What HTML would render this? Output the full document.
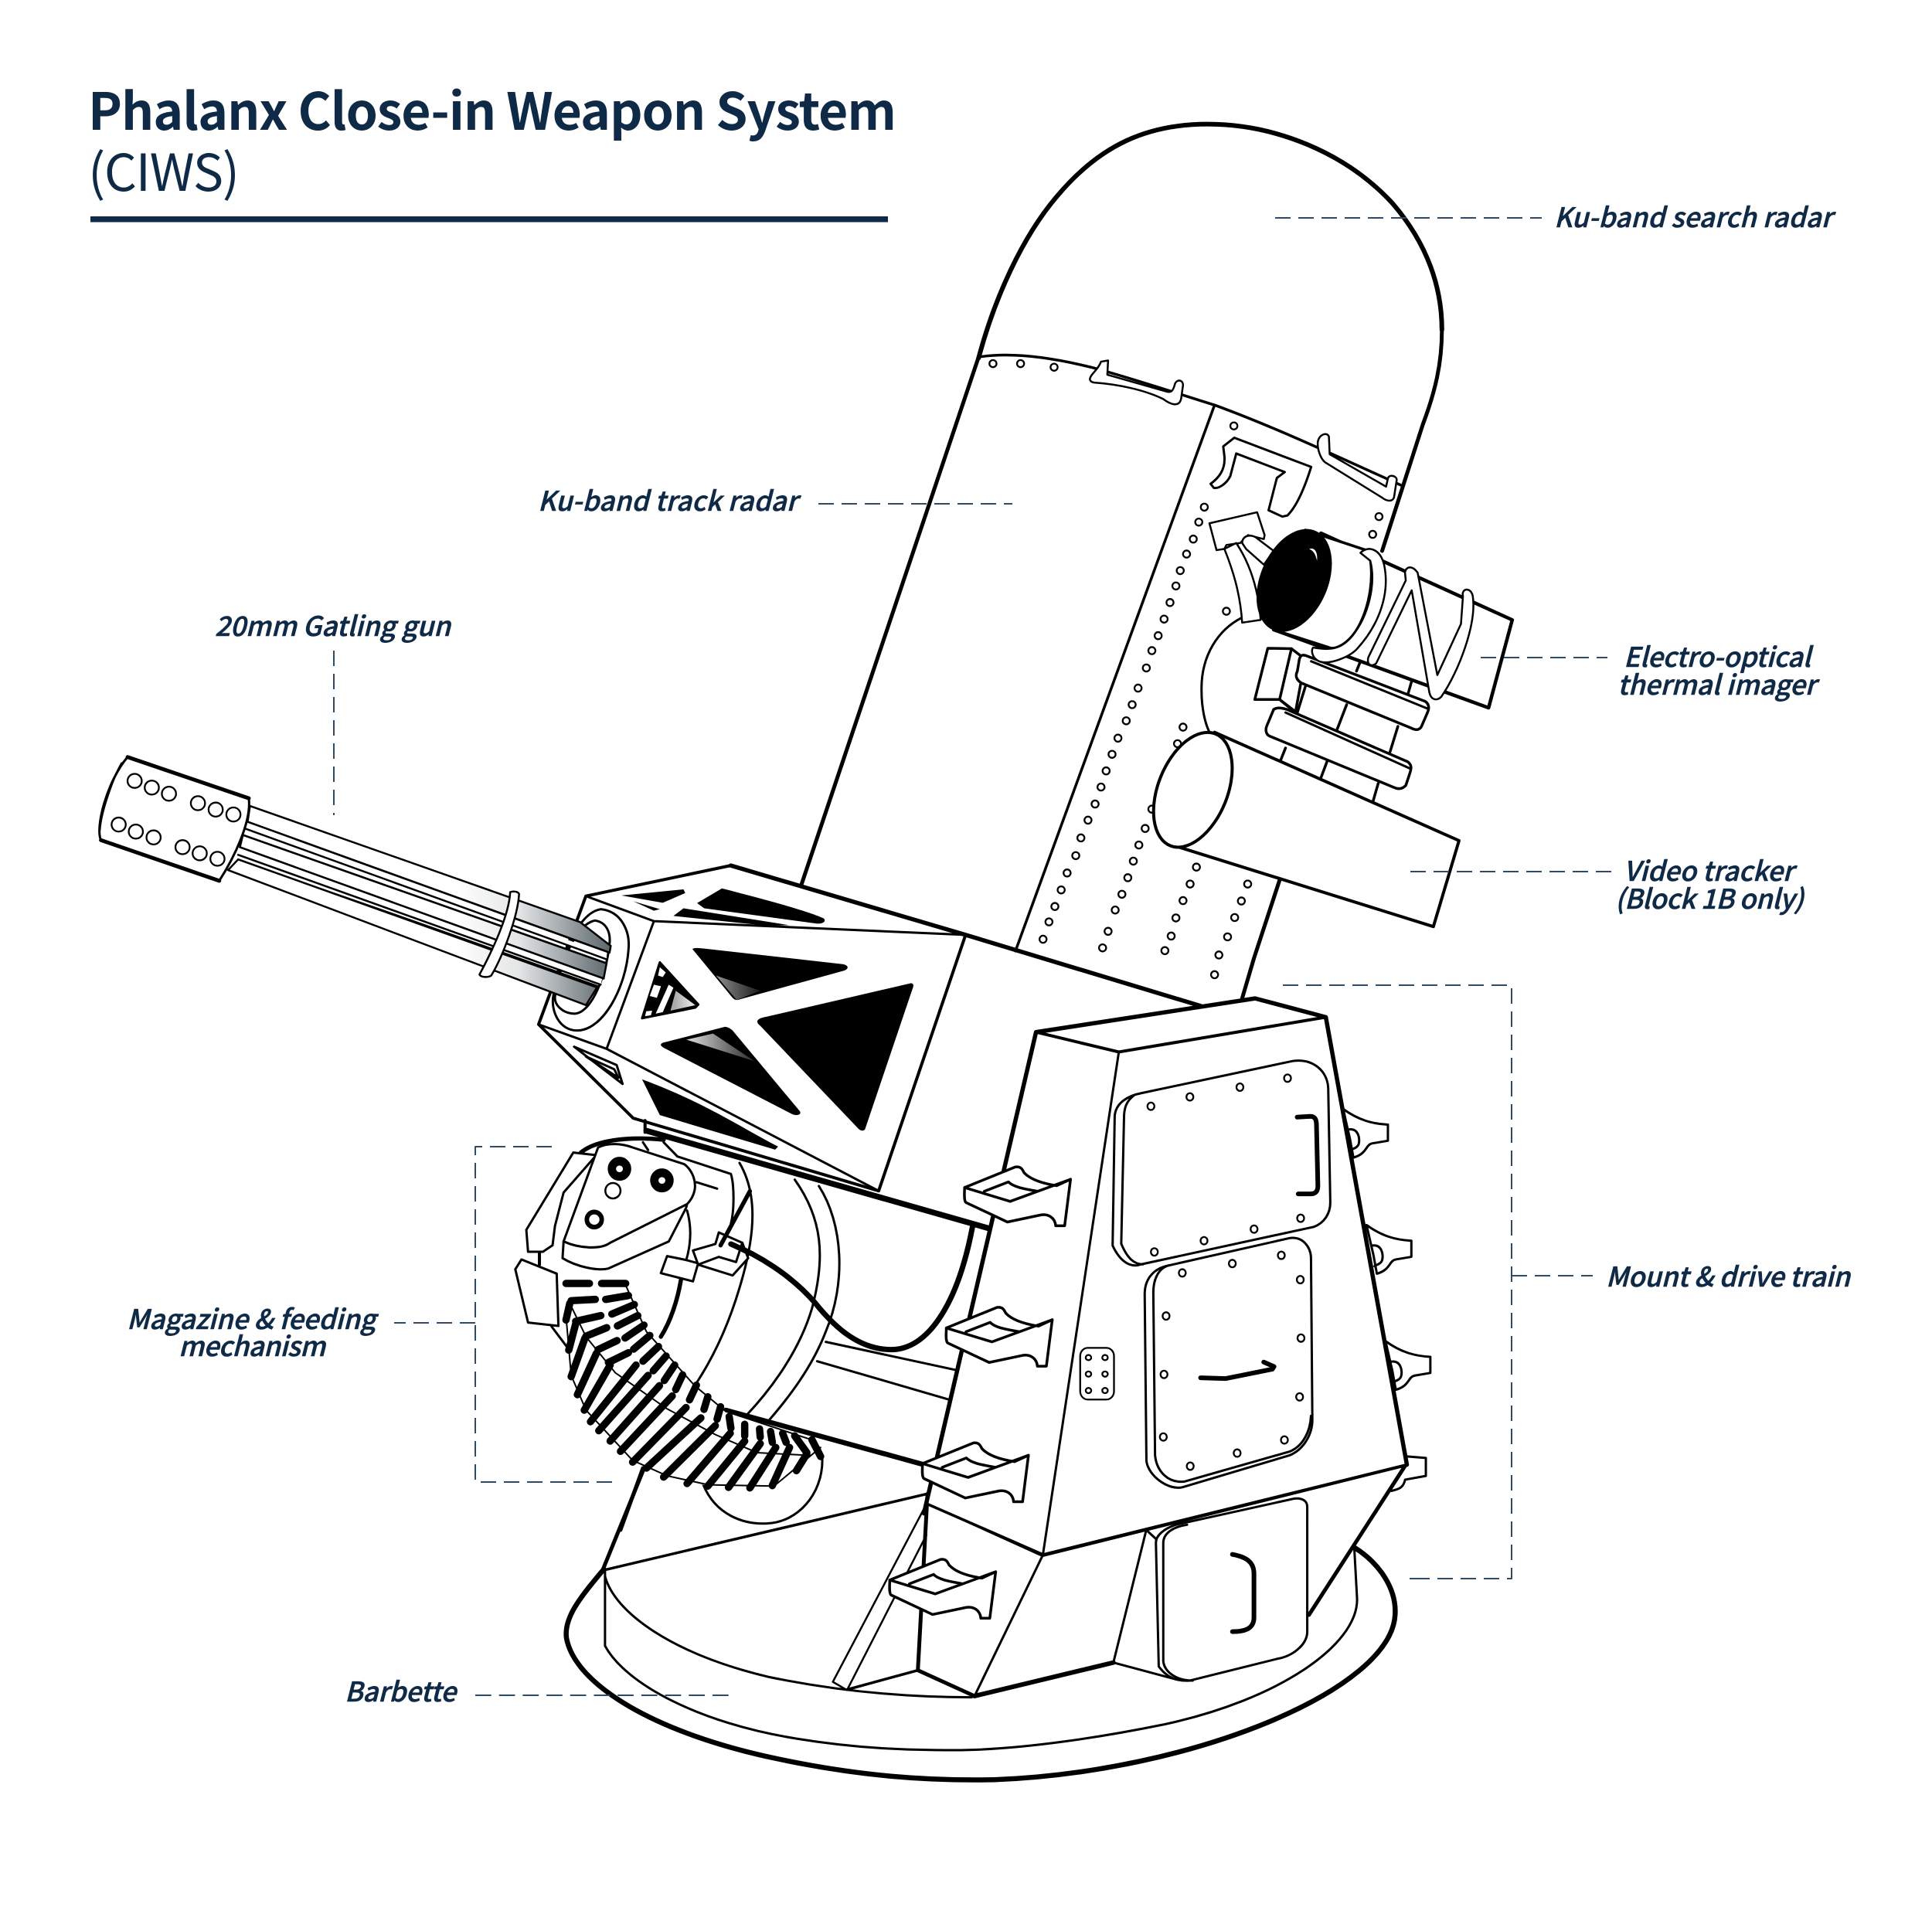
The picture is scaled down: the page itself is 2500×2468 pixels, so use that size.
<!DOCTYPE html>
<html><head><meta charset="utf-8"><style>
html,body{margin:0;padding:0;background:#fff;width:2500px;height:2468px;overflow:hidden}
svg{display:block}
svg *{vector-effect:non-scaling-stroke}
path,line,ellipse,circle,rect,polygon,polyline{fill:none;stroke:#000;stroke-linejoin:round;stroke-linecap:round}
.w{fill:#fff}
.k{fill:#000;stroke:none}
.kk{fill:#000}
text{font-family:"Noto Sans CJK SC","Liberation Sans",sans-serif;fill:#0f2a47;stroke:none}
.l{font-size:35px;font-style:italic;font-weight:500;stroke:#0f2a47;stroke-width:.6px}
.ld{stroke:#2f4a66;stroke-width:2;stroke-dasharray:20 10;stroke-linecap:butt;fill:none}
</style></head><body>
<svg xmlns="http://www.w3.org/2000/svg" width="2500" height="2468" viewBox="0 0 2500 2468">
<defs>
<linearGradient id="bg" gradientUnits="userSpaceOnUse" x1="640" y1="0" x2="905" y2="0"><stop offset="0" stop-color="#fff"/><stop offset=".4" stop-color="#e4e6e7"/><stop offset="1" stop-color="#59646a"/></linearGradient>
<linearGradient id="bg2" gradientUnits="userSpaceOnUse" x1="1030" y1="0" x2="1150" y2="0"><stop offset="0" stop-color="#ddd"/><stop offset="1" stop-color="#222"/></linearGradient>
<linearGradient id="bg3" gradientUnits="userSpaceOnUse" x1="1010" y1="0" x2="1045" y2="0"><stop offset="0" stop-color="#aaa"/><stop offset="1" stop-color="#eee"/></linearGradient>
<g id="step">
<path class="w" stroke-width="3.5" d="M108 530 L255 475 C270 473 275 480 280 490 C300 510 340 520 375 525 L415 508 L398 632 L372 632 C370 610 350 600 330 603 L232 622 L112 570 C105 565 108 540 108 530Z"/>
<path stroke-width="3.5" d="M108 530 L240 567 L415 508 M165 540 L235 515 C250 530 290 535 320 540"/>
</g>
<g id="rear">
<path class="w" stroke-width="3" d="M1205 320 C1250 350 1290 360 1335 362 L1335 405 L1290 412 C1270 415 1275 440 1235 450 L1225 400Z"/>
<path stroke-width="3" d="M1220 375 C1250 370 1255 400 1250 415 C1245 425 1235 425 1228 430"/>
</g>
</defs>

<!-- heading -->
<text x="114" y="168" font-size="66" font-weight="700" textLength="1046">Phalanx Close-in Weapon System</text>
<text x="114" y="247" font-size="66" font-weight="400" textLength="196">(CIWS)</text>
<rect x="117" y="280" width="1032" height="7.5" style="fill:#0f2a47;stroke:none"/>

<!-- radar dome -->
<g transform="translate(1200,120) scale(.5102,.3333)">
<path stroke-width="6" d="M130 1030 C170 800 240 560 330 400 C440 200 560 122 710 122 C880 122 1060 230 1180 430 C1270 590 1305 760 1305 920"/>
</g>

<!-- radar body -->
<g transform="translate(1240,440) scale(.5102)">
<path stroke-width="5" d="M51 45 L-400 1388 M1226.6 -26 C1226.6 60 1210 130 1178 215 L1075 535 M815 1370 L750 1568 L720 1670"/>
<path stroke-width="3.5" d="M60 42 C150 30 260 50 340 70 C450 100 600 150 650 165 C800 220 950 290 1122 368"/>
<path stroke-width="3.5" d="M650 165 L145 1550"/>
<g class="rv" stroke-width="2.3">
<circle cx="88" cy="60" r="9"/><circle cx="158" cy="60" r="9"/><circle cx="243" cy="69" r="9"/><circle cx="699" cy="218" r="9"/><circle cx="1067" cy="448" r="9"/><circle cx="1051" cy="493" r="9"/><circle cx="680" cy="688" r="9"/>
<circle cx="624" cy="424" r="9"/><circle cx="610" cy="462" r="9"/><circle cx="596" cy="505" r="9"/><circle cx="579" cy="543" r="9"/><circle cx="563" cy="585" r="9"/><circle cx="552" cy="624" r="9"/><circle cx="537" cy="666" r="9"/><circle cx="522" cy="708" r="9"/><circle cx="507" cy="750" r="9"/><circle cx="491" cy="788" r="9"/><circle cx="477" cy="832" r="9"/><circle cx="456" cy="883" r="9"/><circle cx="441" cy="925" r="9"/><circle cx="426" cy="966" r="9"/><circle cx="405" cy="1010" r="9"/><circle cx="390" cy="1051" r="9"/><circle cx="375" cy="1093" r="9"/><circle cx="362" cy="1134" r="9"/><circle cx="347" cy="1177" r="9"/><circle cx="329" cy="1218" r="9"/><circle cx="311" cy="1263" r="9"/><circle cx="298" cy="1308" r="9"/><circle cx="276" cy="1352" r="9"/><circle cx="261" cy="1395" r="9"/><circle cx="245" cy="1437" r="9"/><circle cx="230" cy="1476" r="9"/><circle cx="215" cy="1520" r="9"/>
<circle cx="570" cy="982" r="9"/><circle cx="556" cy="1024" r="9"/><circle cx="491" cy="1190" r="9"/><circle cx="474" cy="1239" r="9"/><circle cx="458" cy="1281" r="9"/><circle cx="444" cy="1322" r="9"/><circle cx="430" cy="1364" r="9"/><circle cx="415" cy="1406" r="9"/><circle cx="398" cy="1446" r="9"/><circle cx="380" cy="1500" r="9"/><circle cx="366" cy="1542" r="9"/>
<circle cx="604" cy="1337" r="9"/><circle cx="588" cy="1380" r="9"/><circle cx="570" cy="1422" r="9"/><circle cx="552" cy="1466" r="9"/><circle cx="540" cy="1512" r="9"/><circle cx="524" cy="1549" r="9"/>
<circle cx="734" cy="1380" r="9"/><circle cx="718" cy="1423" r="9"/><circle cx="701" cy="1465" r="9"/><circle cx="683" cy="1514" r="9"/><circle cx="661" cy="1560" r="9"/><circle cx="650" cy="1610" r="9"/>
</g>
<path class="w" stroke-width="2.5" d="M335 95 C338 85 355 75 362 55 L380 52 L378 88 L525 130 C540 135 545 130 550 110 C555 100 570 100 570 115 L565 150 C560 170 540 165 520 150 C470 125 400 112 345 108 C335 107 332 100 335 95Z"/>
<path class="w" stroke-width="2.5" d="M912 258 C915 240 935 232 940 245 L942 290 L1085 372 L1090 350 C1095 340 1112 345 1112 355 L1105 400 C1100 412 1085 408 1075 400 L930 310 C918 300 910 275 912 258Z"/>
<path class="w" stroke-width="3" d="M700 248 L895 322 C880 370 860 420 835 445 L822 448 L787 432 L808 350 L828 335 L705 288 L690 345 C680 365 660 378 648 375 L640 365 C660 350 678 330 675 295 L672 270 Z"/>
<path class="w" stroke-width="2.5" d="M637 465 L758 437 L777 495 L775 505 L735 495 L715 515 L680 520 L675 530 L655 533 Z"/>
<path stroke-width="3" d="M718 705 C660 735 615 800 617 890 C617 930 625 975 640 1000"/>
<path class="w" stroke-width="2.5" d="M675 530 L705 515 C735 560 760 620 767 710 L720 717 C715 640 695 580 675 530Z"/>
<path class="w" stroke-width="2.5" d="M720 515 C720 495 745 490 760 505 L800 535 L775 570 L730 530 Z"/>
<!-- EO box -->
<path class="w" stroke-width="4.5" d="M920 490 L1405 710 L1345 933 L800 735Z"/>
<path class="w" stroke-width="3.5" d="M880 482 L1040 535 C1060 600 1040 700 1000 750 C975 780 950 785 940 780 L800 735Z"/>
<ellipse class="kk" cx="852" cy="610" rx="85" ry="136" transform="rotate(23 852 610)"/>
<path class="w" style="stroke:none" d="M890 530 C905 525 912 540 910 560 C905 540 900 535 890 530Z"/>
<!-- struts -->
<path stroke-width="3.5" d="M880 880 L860 945 M985 925 L960 990 M1115 980 L1095 1045 M1150 865 L1140 900 M1020 815 L1010 840 M830 1035 L818 1065 M935 1070 L920 1110 M1065 1125 L1052 1170"/>
<path class="w" stroke-width="3.5" d="M785 782 L845 783 L880 810 L855 945 L815 912 L752 912 Z"/>
<path stroke-width="3.5" d="M845 783 L815 912 M815 912 L858 945"/>
<path class="w" stroke-width="3.5" d="M880 800 L1180 915 C1195 920 1195 935 1190 945 L1175 980 C1170 990 1160 990 1150 985 L870 870 C855 860 855 850 860 840 L865 810 C868 800 872 798 880 800Z"/>
<path stroke-width="3" d="M895 815 L1190 935"/>
<path class="w" stroke-width="3.5" d="M800 937 C810 930 830 935 840 940 L1140 1070 C1150 1078 1150 1085 1145 1100 L1135 1130 C1125 1140 1115 1140 1105 1135 L790 1005 C778 1000 780 985 782 980 Z"/>
<path stroke-width="3" d="M830 945 L1148 1088"/>
<!-- straps -->
<path class="w" stroke-width="2.5" d="M1020 540 C1040 520 1070 530 1080 570 C1095 640 1070 720 1010 785 C990 805 940 825 915 815 C895 805 895 785 900 780 C950 790 975 780 1000 750 C1040 700 1060 620 1045 560 Z"/>
<path class="w" stroke-width="2.5" d="M1133 590 C1135 575 1150 570 1165 590 L1215 850 L1275 720 L1280 650 C1275 630 1300 625 1305 650 C1315 720 1270 840 1225 905 C1215 915 1200 915 1195 895 L1150 635 L1060 820 C1050 830 1035 825 1040 805 L1135 610 Z"/>
<!-- video tracker -->
<path class="w" stroke-width="4" d="M650 995 L1270 1270 L1205 1488 L555 1285Z"/>
<ellipse class="w" stroke-width="4" cx="595" cy="1141" rx="88" ry="153" transform="rotate(22 595 1141)"/>
</g>

<!-- barbette -->
<g transform="translate(700,1880) scale(.7334,.3333)">
<path stroke-width="6.5" d="M110 455 C70 560 40 640 45 720 C60 900 200 1090 420 1190 C560 1255 680 1275 800 1270 C1150 1240 1500 920 1507 630 C1510 530 1480 430 1435 368"/>
<path stroke-width="3" d="M113 450 L113 750 C150 900 280 1050 450 1110 C560 1150 650 1155 730 1155 C850 1155 1000 1100 1100 1055 C1300 960 1440 750 1440 570 L1435 370"/>
<path stroke-width="3" d="M113 480 C130 620 230 780 400 870 C520 925 640 950 760 950"/>
<path stroke-width="3.5" d="M113 455 L685 158"/>
<path stroke-width="5" d="M182 60 L110 450"/>
</g>

<!-- rear brackets -->
<g transform="translate(1200,1280) scale(.4464,.4847)">
<use href="#rear"/>
<use href="#rear" transform="translate(68,310)"/>
<use href="#rear" transform="translate(123,620)"/>
<path class="w" stroke-width="3" d="M1390 1248 L1445 1252 L1445 1300 L1385 1310 C1380 1330 1370 1335 1345 1340"/>
</g>

<!-- magazine -->
<g transform="translate(640,1460) scale(.4464,.3333)">
<path stroke-width="3" d="M870 200 C950 350 960 500 920 700 C880 880 790 1030 730 1115"/>
<path stroke-width="3" d="M940 225 C1010 370 1020 600 960 790 C920 930 850 1050 795 1135"/>
<path stroke-width="3" d="M710 135 C760 250 760 400 710 620 C670 800 620 920 580 1000"/>
<path stroke-width="3" d="M960 830 L1340 940 M935 905 L1320 1055"/>
<path stroke-width="7.5" d="M440 10 L1440 392"/>
<path stroke-width="6.5" d="M670 1095 L1240 1305"/>
<path stroke-width="7" d="M685 450 C760 490 860 570 930 680 C990 780 1060 860 1150 860 C1250 860 1340 700 1385 385"/>
<path stroke-width="3" d="M605 1385 C640 1500 720 1540 790 1535 C880 1530 950 1420 950 1290 C950 1270 945 1250 940 1240"/>
<path stroke-width="5" d="M430 1320 L365 1560"/>
<path stroke-width="5.5" d="M250 95 C290 50 380 30 490 45"/>
<path stroke-width="3" d="M430 55 L445 85 M490 55 L530 110 L685 178 C695 220 695 320 685 370 M585 210 L645 235 M558 320 C575 400 565 470 555 515"/>
<path stroke-width="5.5" d="M540 590 C530 670 510 750 482 810"/>
<path stroke-width="4" d="M130 480 L130 530"/>
<path class="w" stroke-width="3" d="M228 95 L295 105 L200 250 L175 380 L168 455 L140 480 L97 480 L92 395 Z"/>
<path class="w" stroke-width="3" d="M78 510 L180 565 L185 768 L97 755 L60 548 Z"/>
<path stroke-width="3" d="M165 770 L210 850"/>
<path class="w" stroke-width="3" d="M200 440 L197 505 C240 540 300 555 330 545 L505 440 L555 310 L558 295 L335 445 C310 470 250 470 200 440Z"/>
<path class="w" stroke-width="3" d="M300 75 C330 55 370 60 400 75 L550 140 C570 160 585 200 580 240 C575 270 565 285 558 295 L335 445 C310 470 250 470 200 440 Z"/>
<ellipse class="kk" cx="362" cy="158" rx="33" ry="45"/><ellipse class="w" style="stroke:none" cx="362" cy="158" rx="10" ry="13"/>
<ellipse class="kk" cx="485" cy="203" rx="33" ry="45"/><ellipse class="w" style="stroke:none" cx="485" cy="203" rx="10" ry="13"/>
<ellipse class="kk" cx="289" cy="355" rx="27" ry="37"/><ellipse class="w" style="stroke:none" cx="289" cy="355" rx="15" ry="20"/>
<ellipse stroke-width="2.5" cx="343" cy="243" rx="22" ry="30"/>
<path class="w" stroke-width="3" d="M500 497 L555 512 L590 525 L575 595 L482 563 Z"/>
<path class="w" stroke-width="3" d="M590 530 L690 572 L735 505 L718 445 L650 405 L640 450 L575 475Z"/>
<path stroke-width="3" d="M590 530 L650 500 L700 520 L718 445"/>
<path stroke-width="5.5" d="M740 245 L655 455"/>
<path stroke-width="7" d="M685 450 C710 465 725 475 740 485"/>
<!-- belt -->
<path class="w" style="stroke:none" d="M205 600 L385 600 L420 725 L520 930 L650 1090 L940 1220 L900 1300 L810 1390 L620 1390 L490 1350 L340 1230 L240 1050 L215 870Z"/>
<path stroke-width="2" d="M380 610 L440 790 L580 1000 L670 1100 L930 1215 M208 745 L222 960 L265 1095 L400 1290 L500 1350 L620 1385 L810 1390 L945 1240 M225 700 L265 810 L350 950 L500 1090 L640 1190 L760 1260 L900 1270"/>
<g stroke-width="9.5">
<path d="M310 603 L380 603 M322 665 L388 650 M340 722 L405 685 M356 768 L415 728 M378 815 L433 765 M403 858 L450 805 M430 905 L475 848 M460 942 L497 885 M492 980 L522 920 M525 1015 L545 958 M565 1055 L585 998 M607 1092 L618 1043 M645 1130 L655 1082 M685 1165 L680 1120 M725 1195 L725 1150 M770 1200 L768 1168 M805 1220 L800 1178 M845 1220 L835 1185"/>
<path d="M207 603 L275 603 M222 670 L292 665 M207 745 L218 680 M235 750 L308 728 M215 862 L235 760 M265 808 L325 775 M222 965 L262 815 M300 860 L355 825 M240 1035 L295 875 M330 910 L388 872 M260 1095 L335 920 M278 1140 L410 920 M302 1175 L445 960 M335 1215 L478 1000 M365 1255 L515 1040 M400 1297 L555 1085 M440 1320 L598 1125 M490 1355 L640 1155 M558 1380 L683 1185 M618 1390 L725 1215 M678 1395 L770 1225 M740 1397 L815 1240 M805 1388 L855 1240 M875 1330 L905 1265 M870 1195 L905 1260 M920 1210 L945 1275"/>
</g>
</g>

<!-- gun housing -->
<g transform="translate(100,960) scale(.7653,.3954)">
<path class="w" stroke-width="4" d="M860 505 L1105 405 L1502 632 L1355 1470 L940 1232 L780 925 Z"/>
<path stroke-width="4" d="M960 1240 L960 1278"/>
<path stroke-width="3" d="M860 505 L975 587 L1502 632 M975 587 L895 1005 M780 925 L895 1005 L1355 1470"/>
<path stroke-width="5.5" d="M1105 405 L1502 632 L1900 865"/>
<path class="k" d="M920 503 L1025 483 L1028 495 L990 527Z M940 522 L985 548 L975 553Z M1048 528 L1090 480 C1150 510 1230 550 1262 578 C1268 590 1258 597 1250 595 L1060 545 Z M1008 570 L1025 545 L1203 600 L1170 603 Z"/>
<path class="k" d="M1040 678 C1045 673 1050 675 1060 677 L1295 728 C1305 732 1305 745 1295 750 L1120 843 C1115 847 1112 845 1108 838 Z"/>
<path style="fill:url(#bg2);stroke:none" d="M1080 765 L1155 815 L1115 845Z"/>
<path class="k" d="M1410 790 C1415 792 1414 800 1412 810 L1332 1268 C1328 1278 1322 1270 1320 1265 L1155 930 C1145 915 1150 905 1165 900 Z"/>
<path class="k" d="M990 985 L1095 933 C1100 933 1105 940 1108 945 L1222 1210 C1225 1222 1215 1225 1208 1218 L995 1005 C985 995 985 990 990 985Z"/>
<path style="fill:url(#bg2);stroke:none" d="M1030 975 L1075 955 L1145 1045 L1120 1030Z"/>
<path style="fill:#000;stroke:#000;stroke-width:3" d="M985 722 L1050 860 L1045 870 L955 905 Z"/>
<path class="w" style="stroke:none" d="M985 738 L995 755 L990 770 L982 765Z M975 795 L987 800 L980 838 L968 832Z M962 882 L972 880 L970 895 L960 898Z M1000 795 L1008 805 L990 885 L978 890Z"/>
<path style="fill:url(#bg3);stroke:none" d="M1012 815 L1045 862 L1003 880Z"/>
<path class="k" d="M955 1105 C1060 1180 1120 1260 1185 1325 L1180 1335 L985 1222 Z"/>
<path stroke-width="3" d="M840 998 L912 1058 L922 1120 Z M860 1030 L908 1072 L915 1100Z"/>
<!-- bore ring -->
<path class="w" stroke-width="3" d="M885 548 C920 555 935 620 932 680 C928 800 890 945 845 945 C815 945 800 880 805 830 C815 720 845 560 885 548Z"/>
<path class="w" stroke-width="3" d="M875 585 C895 590 902 625 900 660 C895 760 870 890 840 890 C820 888 805 860 808 830 C815 740 840 600 875 585Z"/>
<!-- barrels -->
<path style="fill:url(#bg);stroke:#000;stroke-width:2.5" d="M292 210 L850 590 L902 668 L900 690 L288 262Z"/>
<path style="fill:url(#bg);stroke:#000;stroke-width:2.5" d="M280 305 L895 725 L890 775 L275 345Z"/>
<path style="fill:url(#bg);stroke:#000;stroke-width:2.5" d="M272 385 L880 800 L860 862 L255 420Z"/>
<path class="w" style="stroke:none" d="M285 262 L895 695 L895 712 L280 305Z M275 345 L888 772 L885 795 L272 385Z"/>
<path stroke-width="2.5" d="M288 262 L900 690 M285 285 L895 712 M280 305 L895 725 M275 345 L890 775 M272 370 L885 795 M272 385 L880 805"/>
<path class="w" stroke-width="2.5" d="M732 492 C738 488 745 490 747 498 C745 570 720 700 700 765 C695 772 683 772 680 762 C700 690 730 570 732 492 Z"/>
<!-- muzzle clamp -->
<path class="w" stroke-width="3" d="M85 50 L290 185 C295 260 265 380 240 455 L40 322 C30 280 50 130 85 50Z"/>
<path stroke-width="5" d="M85 50 L290 185 M40 322 L240 455"/>
<path stroke-width="2.5" d="M75 70 C60 120 40 230 38 290"/>
<g stroke-width="2.3">
<ellipse cx="97" cy="128" rx="12" ry="23"/><ellipse cx="126" cy="150" rx="12" ry="23"/><ellipse cx="155" cy="170" rx="12" ry="23"/><ellipse cx="204" cy="201" rx="12" ry="23"/><ellipse cx="234" cy="222" rx="12" ry="23"/><ellipse cx="264" cy="238" rx="12" ry="23"/><ellipse cx="70" cy="271" rx="12" ry="23"/><ellipse cx="99" cy="294" rx="12" ry="23"/><ellipse cx="129" cy="313" rx="12" ry="23"/><ellipse cx="178" cy="345" rx="12" ry="23"/><ellipse cx="207" cy="365" rx="12" ry="23"/><ellipse cx="237" cy="383" rx="12" ry="23"/>
</g>
</g>

<!-- lower pedestal -->
<g transform="translate(700,1880) scale(.7334,.3333)">
<path class="w" style="stroke:none" d="M680 195 L885 400 L1525 50 L1355 630 L1352 700 L1145 885 L1010 815 L765 945 L665 845Z"/>
<path stroke-width="3.5" d="M680 195 L885 400 L1525 50"/>
<path stroke-width="3" d="M885 400 L765 945 M1010 815 L1068 300 L1090 345 M1010 815 L1120 880"/>
<path stroke-width="5" d="M665 845 L765 945"/>
<path stroke-width="6" d="M765 945 L1010 815"/>
<path stroke-width="3.5" d="M665 845 L540 920"/>
<path stroke-width="5" d="M682 160 L665 845"/>
<path stroke-width="2.5" d="M680 200 L515 890 L540 922 L680 320"/>
<path stroke-width="5" d="M1525 50 L1355 630"/>
<path class="w" stroke-width="3" d="M1120 280 L1330 178 C1345 175 1352 190 1352 210 L1352 700 C1350 750 1325 790 1300 800 L1145 885 C1115 890 1100 860 1090 830 L1085 350 C1085 320 1100 295 1120 280Z"/>
<path stroke-width="3" d="M1140 280 C1110 290 1098 320 1098 350 L1098 810 C1100 850 1120 885 1150 885"/>
<path stroke-width="6" d="M1220 395 C1245 405 1258 425 1258 470 L1258 640 C1258 680 1245 695 1220 695"/>
</g>

<!-- pedestal -->
<g transform="translate(1200,1280) scale(.4464,.4847)">
<path class="w" style="stroke:none" d="M315 115 L950 25 L1155 75 L1390 1270 L335 1510 L0 1375 Z"/>
<path stroke-width="5.5" d="M315 115 L950 25 L1155 75 L1390 1270 M315 115 L-10 1400"/>
<path stroke-width="4" d="M315 115 L555 168 L1155 75"/>
<path stroke-width="3" d="M555 168 L335 1510"/>
<path stroke-width="3.5" d="M1390 1270 L335 1510 L0 1375"/>
<path stroke-width="3" d="M620 278 L1060 192 C1120 185 1160 220 1162 265 L1168 570 C1168 600 1150 625 1120 635 L620 735 C590 745 560 730 537 685 L543 340 C545 305 580 285 620 278Z"/>
<path stroke-width="3" d="M600 283 C575 300 570 320 570 345 L562 680 C580 720 600 735 625 735"/>
<path stroke-width="3" d="M700 738 L1050 665 C1090 660 1110 690 1112 715 L1116 1150 C1116 1190 1090 1230 1050 1245 L740 1330 C700 1340 640 1300 635 1260 L630 815 C630 770 660 745 700 738Z"/>
<path stroke-width="3" d="M700 738 C670 745 655 775 655 810 L660 1245 C665 1290 700 1320 745 1315 L1050 1235 C1090 1220 1110 1180 1112 1140"/>
<g stroke-width="2.3">
<circle cx="648" cy="313" r="10"/><circle cx="761" cy="288" r="10"/><circle cx="906" cy="262" r="10"/><circle cx="1044" cy="238" r="10"/><circle cx="658" cy="702" r="10"/><circle cx="802" cy="672" r="10"/><circle cx="947" cy="641" r="10"/><circle cx="1082" cy="612" r="10"/>
<circle cx="739" cy="758" r="10"/><circle cx="884" cy="733" r="10"/><circle cx="1026" cy="711" r="10"/><circle cx="1081" cy="776" r="10"/><circle cx="1083" cy="932" r="10"/><circle cx="1079" cy="1089" r="10"/><circle cx="1035" cy="1204" r="10"/><circle cx="898" cy="1239" r="10"/><circle cx="762" cy="1274" r="10"/><circle cx="684" cy="1196" r="10"/><circle cx="686" cy="1029" r="10"/><circle cx="692" cy="873" r="10"/>
<rect x="443" y="958" width="98" height="138" rx="22"/>
<ellipse cx="467" cy="984" rx="8" ry="7"/><ellipse cx="515" cy="984" rx="8" ry="7"/><ellipse cx="467" cy="1028" rx="8" ry="7"/><ellipse cx="515" cy="1028" rx="8" ry="7"/><ellipse cx="467" cy="1072" rx="8" ry="7"/><ellipse cx="515" cy="1072" rx="8" ry="7"/>
</g>
<path stroke-width="6" d="M1072 342 L1110 340 C1125 340 1128 350 1128 365 L1132 525 C1132 540 1125 547 1110 547 L1075 547"/>
<path stroke-width="6" d="M792 1038 L865 1040 L1000 1015 L1005 1008 L975 996"/>
<use href="#step"/>
<use href="#step" transform="translate(-53,375)"/>
<use href="#step" transform="translate(-122,737)"/>
<use href="#step" transform="translate(-217,1048)"/>
</g>

<!-- leaders -->
<path class="ld" d="M1650 282 H1995"/>
<path class="ld" d="M1059 652 H1310"/>
<path class="ld" d="M432 842 V1055"/>
<path class="ld" d="M1916 851 H2080"/>
<path class="ld" d="M1825 1128 H2085"/>
<path class="ld" d="M1660 1275 H1956 V2043 H1824"/>
<path class="ld" d="M1824 2043 H1840"/>
<path class="ld" d="M1956 1651 H2061"/>
<path class="ld" d="M714 1484 H615 V1918 H794"/>
<path class="ld" d="M615 1712 H510"/>
<path class="ld" d="M615 2194 H943" style="stroke-dasharray:20.7 10"/>

<!-- labels -->
<text class="l" x="2011" y="294" textLength="360">Ku-band search radar</text>
<text class="l" x="696" y="661" textLength="336">Ku-band track radar</text>
<text class="l" x="278" y="823" textLength="305">20mm Gatling gun</text>
<text class="l" x="2101" y="863" textLength="242">Electro-optical</text>
<text class="l" x="2093" y="899" textLength="257">thermal imager</text>
<text class="l" x="2101" y="1140" textLength="220">Video tracker</text>
<text class="l" x="2090" y="1176" textLength="244">(Block 1B only)</text>
<text class="l" x="2078" y="1665" textLength="316">Mount &amp; drive train</text>
<text class="l" x="164" y="1720" textLength="322">Magazine &amp; feeding</text>
<text class="l" x="231" y="1755" textLength="190">mechanism</text>
<text class="l" x="446" y="2202" textLength="144">Barbette</text>
</svg>
</body></html>
